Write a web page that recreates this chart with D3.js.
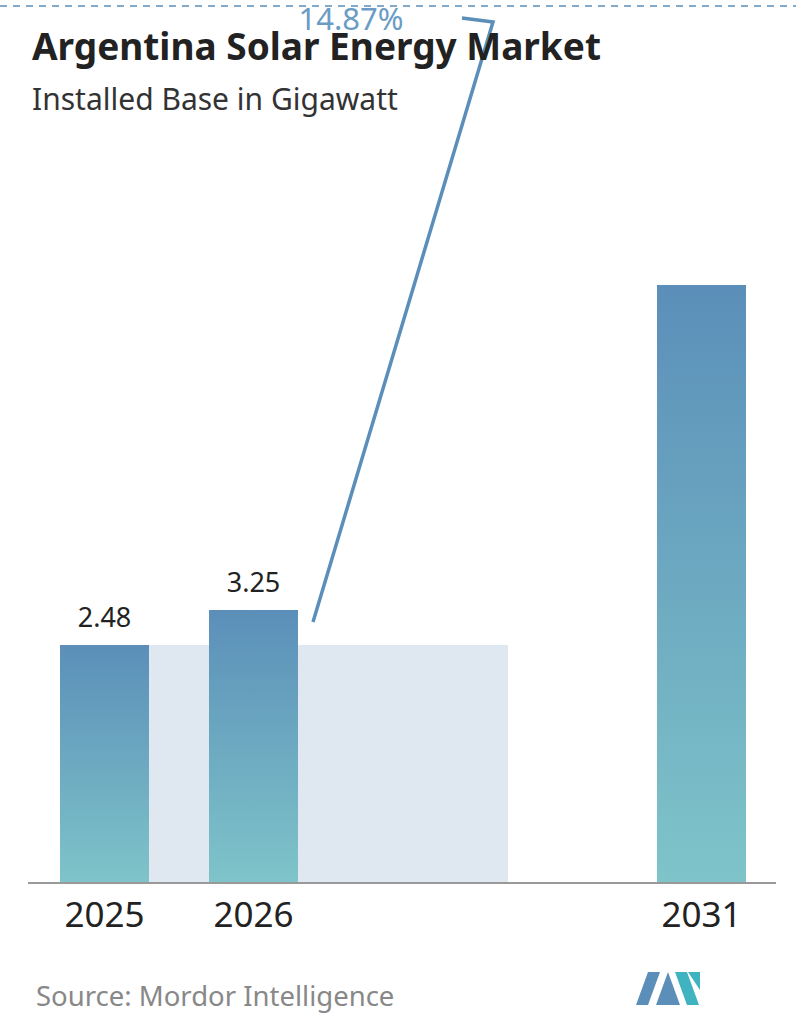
<!DOCTYPE html>
<html><head><meta charset="utf-8">
<script src="https://cdn.jsdelivr.net/npm/d3@7"></script>
<style>body{margin:0;background:#fff}</style>
</head><body>
<div id="chart"></div>
<script>
// data
var years = ["2025", "2026", "2031"];
var values = [2.48, 3.25, 6.5];
var labels = ["2.48", "3.25", ""];
var cagrText = "14.87%";

var W = 796, H = 1034, base = 882;
var svg = d3.select("#chart").append("svg").attr("width", W).attr("height", H)
  .style("font-family", "'Noto Sans', sans-serif");

var defs = svg.append("defs");
var g = defs.append("linearGradient").attr("id", "bg").attr("x1", 0).attr("x2", 0).attr("y1", 0).attr("y2", 1);
g.append("stop").attr("offset", "0%").attr("stop-color", "#5b8fb9");
g.append("stop").attr("offset", "100%").attr("stop-color", "#7ec4c9");

var xPos = {"2025": 60, "2026": 209, "2031": 657};
var bw = 89;
// stylised (piecewise) height scale as in the source chart
var y = d3.scaleLinear().domain([0, 2.48, 3.25, 6.5]).range([base, 645, 610, 285]);

// shaded band at height of first bar
svg.append("rect").attr("x", xPos["2025"] + bw).attr("y", y(values[0]))
  .attr("width", 508 - xPos["2025"] - bw).attr("height", base - y(values[0])).attr("fill", "#dfe8f1");

svg.selectAll(".bar").data(values).enter().append("rect")
  .attr("x", function(d, i) { return xPos[years[i]]; })
  .attr("y", function(d) { return y(d); })
  .attr("width", bw)
  .attr("height", function(d) { return base - y(d); })
  .attr("fill", "url(#bg)");

svg.selectAll(".val").data(values).enter().append("text")
  .attr("x", function(d, i) { return xPos[years[i]] + bw / 2; })
  .attr("y", function(d) { return y(d) - 18; })
  .attr("text-anchor", "middle").attr("font-size", 27).attr("fill", "#222")
  .text(function(d, i) { return labels[i]; });

// axis
svg.append("line").attr("x1", 28).attr("x2", 776).attr("y1", base + 1).attr("y2", base + 1)
  .attr("stroke", "#999").attr("stroke-width", 2);
svg.selectAll(".yr").data(years).enter().append("text")
  .attr("x", function(d) { return xPos[d] + bw / 2; }).attr("y", 927)
  .attr("text-anchor", "middle").attr("font-size", 35).attr("fill", "#222").text(function(d) { return d; });

// CAGR annotation
svg.append("line").attr("x1", 0).attr("x2", W).attr("y1", 6).attr("y2", 6)
  .attr("stroke", "#5b8fb9").attr("stroke-width", 1.5).attr("stroke-dasharray", "7,6");
svg.append("path").attr("d", "M313,622 L493,22 M462,18 L493,22 L490,32")
  .attr("fill", "none").attr("stroke", "#5b8fb9").attr("stroke-width", 3.5);
svg.append("text").attr("x", 351).attr("y", 30).attr("text-anchor", "middle")
  .attr("font-size", 31).attr("fill", "#6a9cc6").text(cagrText);

// titles
svg.append("text").attr("x", 32).attr("y", 60).attr("font-size", 37).attr("font-weight", "bold")
  .attr("fill", "#222").text("Argentina Solar Energy Market");
svg.append("text").attr("x", 32).attr("y", 110).attr("font-size", 30).attr("fill", "#333")
  .text("Installed Base in Gigawatt");
svg.append("text").attr("x", 36).attr("y", 1006).attr("font-size", 27.5).attr("fill", "#888")
  .text("Source:  Mordor Intelligence");

// logo
svg.append("path").attr("d", "M636,1005 L648,972 L660,972 L648,1005 Z M656,1005 L668,972 L680,1005 Z")
  .attr("fill", "#5b8fb9");
svg.append("path").attr("d", "M675,972 L687,972 L699,1005 L687,1005 Z M688,972 L700,972 L700,990 Z")
  .attr("fill", "#3fb3c0");
</script>
</body></html>
